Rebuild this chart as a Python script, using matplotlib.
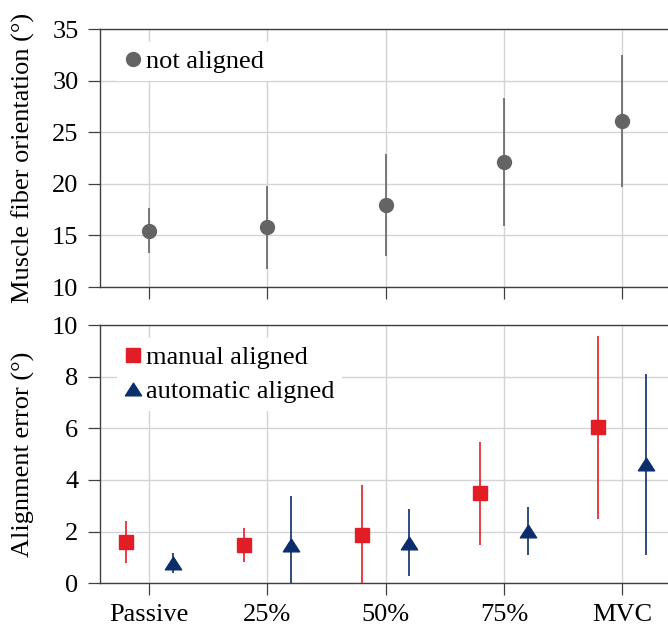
import matplotlib
matplotlib.use("Agg")
import matplotlib.pyplot as plt
from matplotlib.lines import Line2D
from matplotlib.path import Path
import numpy as np

categories = ["Passive", "25%", "50%", "75%", "MVC"]

not_aligned_mean = [15.45, 15.78, 17.95, 22.08, 26.1]
not_aligned_err = [2.2, 4.0, 4.95, 6.2, 6.4]

manual_mean = [1.61, 1.47, 1.87, 3.48, 6.04]
manual_err = [0.82, 0.66, 1.94, 1.99, 3.54]

auto_mean = [0.78, 1.49, 1.57, 2.03, 4.6]
auto_err = [0.40, 1.90, 1.30, 0.94, 3.5]

top_yticks = [10, 15, 20, 25, 30, 35]
bottom_yticks = [0, 2, 4, 6, 8, 10]

GRAY = "#646464"
RED = "#e31d25"
NAVY = "#0c2d6b"
GRID = "#d4d4d4"
SPINE = "#404040"
FS = 19

plt.rcParams["font.family"] = ["Liberation Serif", "DejaVu Serif"]
plt.rcParams["font.size"] = FS

TRI = Path([(0, 0.78), (-1, -0.78), (1, -0.78), (0, 0.78)],
           [Path.MOVETO, Path.LINETO, Path.LINETO, Path.CLOSEPOLY])

W, H = 668, 628
fig = plt.figure(figsize=(W / 100, H / 100), dpi=100)

def px_axes(left, top, right, bottom):
    return fig.add_axes([left / W, 1 - bottom / H, (right - left) / W, (bottom - top) / H])

ax1 = px_axes(100, 29, 671.4, 287)
ax2 = px_axes(100, 325, 671.4, 583.3)

x = np.arange(len(categories))

def style(ax, yticks):
    ax.set_xlim(-0.417, 4.417)
    ax.set_ylim(yticks[0], yticks[-1])
    ax.set_yticks(yticks)
    ax.set_xticks(x)
    ax.grid(True, color=GRID, lw=1.0)
    ax.set_axisbelow(True)
    for s in ax.spines.values():
        s.set_color(SPINE)
        s.set_linewidth(1.0)
    ax.tick_params(axis="both", direction="out", length=8.5, width=0.9,
                   color=SPINE, labelsize=FS)
    ax.tick_params(axis="y", pad=7)
    ax.tick_params(axis="x", pad=6.5)

style(ax1, top_yticks)
style(ax2, bottom_yticks)

ax1.errorbar(x, not_aligned_mean, yerr=not_aligned_err, fmt="o", color=GRAY,
             ms=10, elinewidth=1.2, capsize=0, zorder=3)
ax1.set_xticklabels([])
ax1.set_ylabel("Muscle fiber orientation (°)", fontsize=FS)
ax1.yaxis.set_label_coords(-0.113, 0.5)

ax2.errorbar(x - 0.2, manual_mean, yerr=manual_err, fmt="s", color=RED,
             ms=10.5, elinewidth=1.2, capsize=0, zorder=3)
ax2.errorbar(x + 0.2, auto_mean, yerr=auto_err, fmt="none", ecolor=NAVY,
             elinewidth=1.2, capsize=0, zorder=3)
ax2.plot(x + 0.2, auto_mean, ls="none", marker=TRI, color=NAVY, ms=11.7, zorder=4)
ax2.set_xticklabels(categories)
ax2.set_ylabel("Alignment error (°)", fontsize=FS)
ax2.yaxis.set_label_coords(-0.113, 0.5)

def mk_legend(ax, handles, labels):
    leg = ax.legend(handles, labels, loc="upper left",
                    bbox_to_anchor=(0.0298, 0.95), borderaxespad=0.0,
                    frameon=True, fancybox=False, framealpha=1.0,
                    facecolor="white", edgecolor="none",
                    handlelength=0.6, handletextpad=0.2,
                    borderpad=0.3, labelspacing=0.38, fontsize=FS)
    leg.set_zorder(5)
    return leg

mk_legend(ax1, [Line2D([], [], marker="o", ls="none", color=GRAY, ms=10)],
          ["not aligned"])
mk_legend(ax2, [Line2D([], [], marker="s", ls="none", color=RED, ms=10.5),
                Line2D([], [], marker=TRI, ls="none", color=NAVY, ms=11.7)],
          ["manual aligned", "automatic aligned"])

fig.savefig("out.png", dpi=100)
